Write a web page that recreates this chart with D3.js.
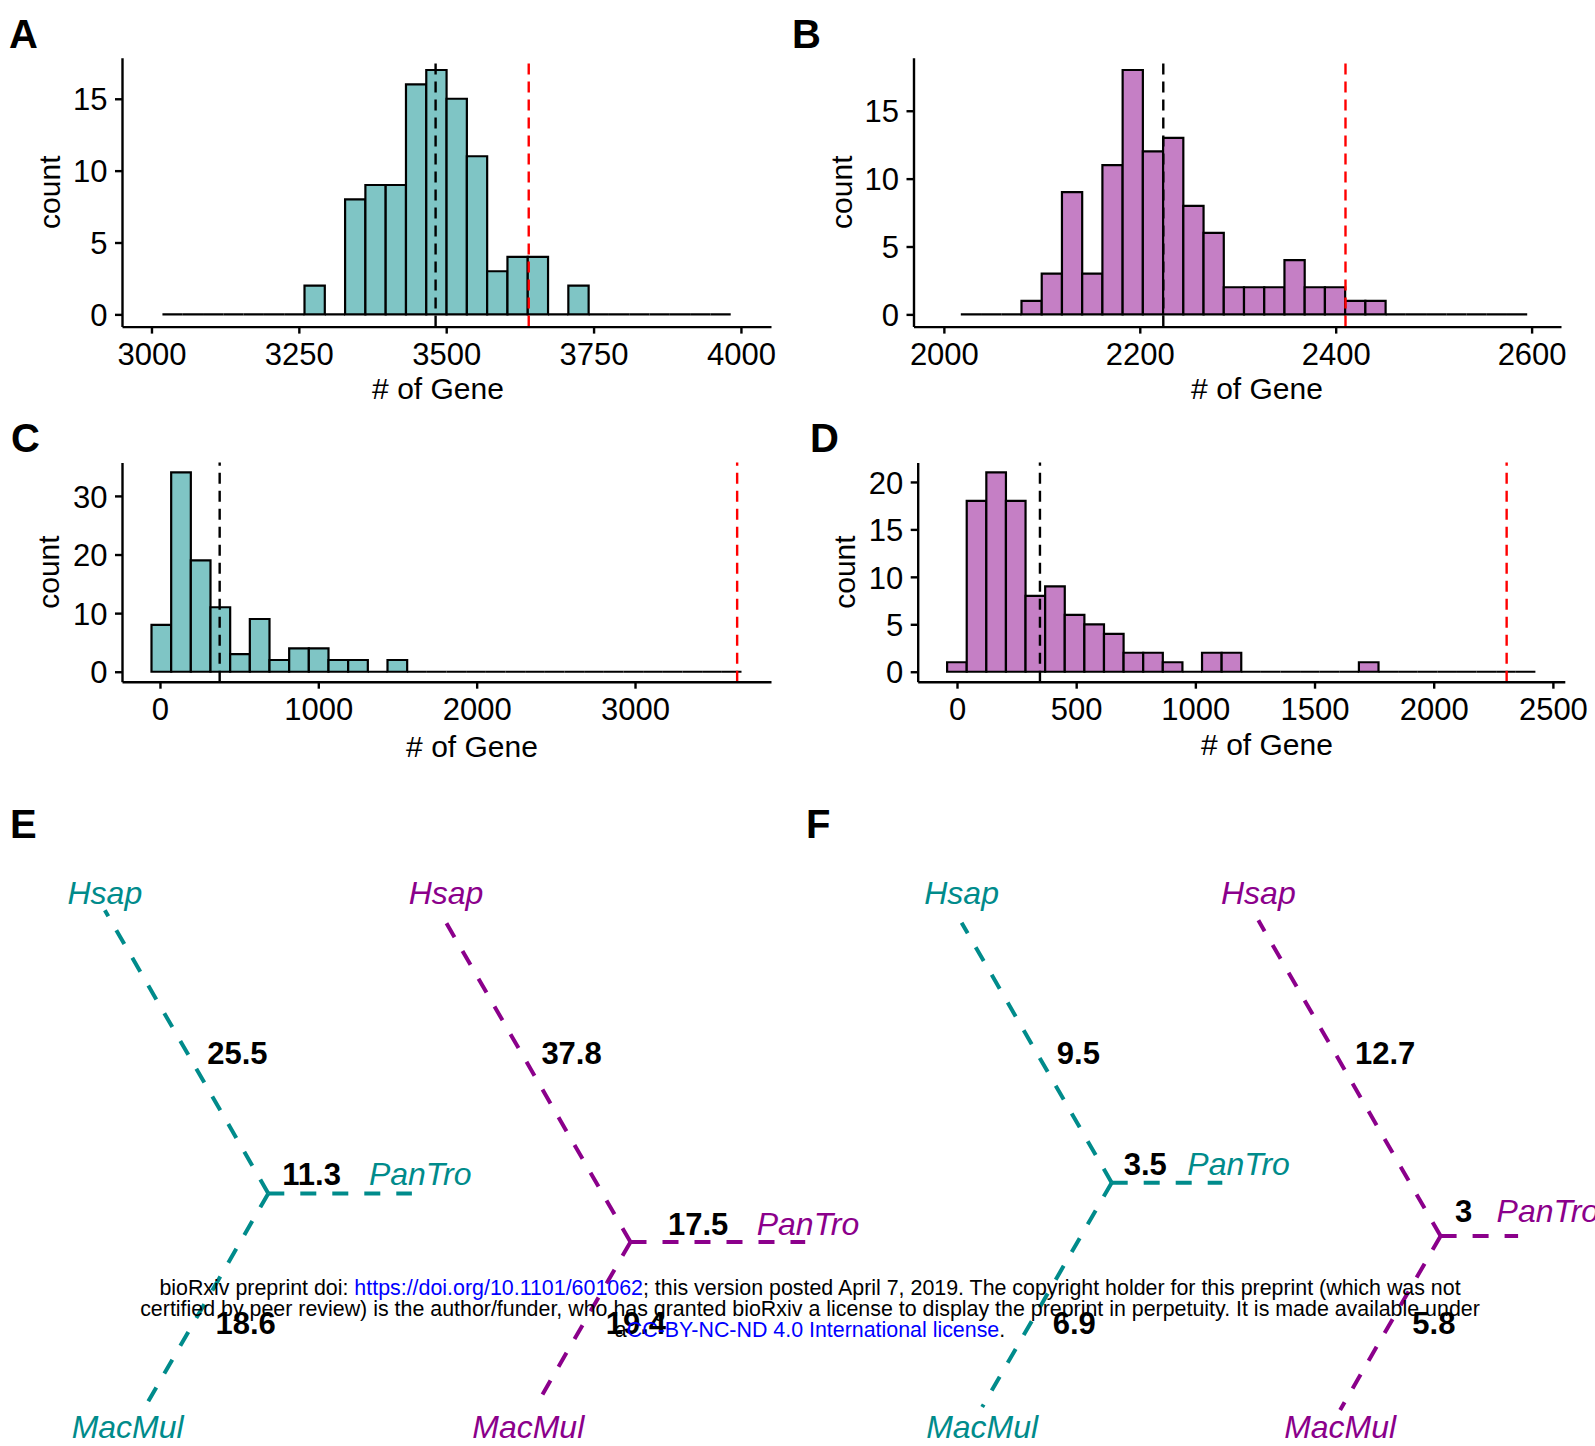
<!DOCTYPE html>
<html>
<head>
<meta charset="utf-8">
<script src="https://cdn.jsdelivr.net/npm/d3@7"></script>
<style>
body { margin: 0; background: #fff; }
svg { display: block; font-family: "Liberation Sans", Arial, sans-serif; }
</style>
</head>
<body>
<svg id="fig" width="1595" height="1446"></svg>
<script>
// ---- histogram data (counts per bin) ----
const countsA = [0,0,0,0,0,0,0,2,0,8,9,9,16,17,15,11,3,4,4,0,2,0,0,0,0,0,0,0];
const countsB = [0,0,0,1,3,9,3,11,18,12,13,8,6,2,2,2,4,2,2,1,1,0,0,0,0,0,0,0];
const countsC = [8,34,19,11,3,9,2,4,4,2,2,0,2,0,0,0,0,0,0,0,0,0,0,0,0,0,0,0,0,0];
const countsD = [1,18,21,18,8,9,6,5,4,2,2,1,0,2,2,0,0,0,0,0,0,1,0,0,0,0,0,0,0,0];

// first bin edge and bin width, in # of genes
const binsA = [3018.6, 34.43];
const binsB = [2017.3, 20.65];
const binsC = [-53.5, 124.2];
const binsD = [-41.5, 82.27];

// x axis limits
const xLimA = [2950, 4051];
const xLimB = [1969, 2630];
const xLimC = [-239.8, 3858.8];
const xLimD = [-164.9, 2550];

// dashed reference lines: [black (mean), red (observed)]
const refA = [3482, 3640];
const refB = [2224, 2410];
const refC = [377, 3645];
const refD = [348, 2306];

// tick labels
const xTicksA = [3000, 3250, 3500, 3750, 4000];
const xTicksB = [2000, 2200, 2400, 2600];
const xTicksC = [0, 1000, 2000, 3000];
const xTicksD = [0, 500, 1000, 1500, 2000, 2500];
const yTicksA = [0, 5, 10, 15];
const yTicksB = [0, 5, 10, 15];
const yTicksC = [0, 10, 20, 30];
const yTicksD = [0, 5, 10, 15, 20];

// ---- trees ----
const tipNames = ["Hsap", "PanTro", "MacMul"];
const tipAngles = [-120, 0, 120];
// edge labels
const edgeE1 = [25.5, 11.3, 18.6];
const edgeE2 = [37.8, 17.5, 19.4];
const edgeF1 = [9.5, 3.5, 6.9];
const edgeF2 = [12.7, 3, 5.8];
// branch lengths as drawn
const lenE1 = [25.5, 11.2, 19.6];
const lenE2 = [37.8, 17.9, 18.9];
const lenF1 = [9.5, 3.5, 8.2];
const lenF2 = [12.7, 2.7, 7.0];

const teal = "#008B8B", purple = "#8B008B";
const tealFill = "#7FC5C5", purpleFill = "#C57FC5";

const svg = d3.select("#fig");

function histPanel(p) {
  const x = d3.scaleLinear().domain(p.xLim).range([p.left, p.right]);
  const maxC = d3.max(p.counts);
  const y = d3.scaleLinear().domain([-0.05 * maxC, 1.05 * maxC]).range([p.bottom, p.top]);
  const g = svg.append("g");

  // bars (zero bins draw as flat lines)
  g.selectAll("path.bar").data(p.counts).join("path")
    .attr("class", "bar")
    .attr("d", (c, i) => {
      const x0 = x(p.bins[0] + i * p.bins[1]);
      const x1 = x(p.bins[0] + (i + 1) * p.bins[1]);
      return `M${x0},${y(0)}V${y(c)}H${x1}V${y(0)}Z`;
    })
    .attr("fill", p.fill)
    .attr("stroke", "#000")
    .attr("stroke-width", 2.2);

  // reference lines
  g.selectAll("line.ref").data(p.ref).join("line")
    .attr("class", "ref")
    .attr("x1", d => x(d)).attr("x2", d => x(d))
    .attr("y1", p.bottom).attr("y2", p.top)
    .attr("stroke", (d, i) => i === 0 ? "#000" : "#FF0000")
    .attr("stroke-width", 2.4)
    .attr("stroke-dasharray", "11,7");

  // axes
  const xAxis = g.append("g")
    .attr("transform", `translate(0,${p.bottom})`)
    .call(d3.axisBottom(x).tickValues(p.xTicks).tickFormat(d3.format("d"))
      .tickSize(7).tickSizeOuter(0));
  xAxis.selectAll("text").attr("y", 38.5).attr("dy", 0);

  const yAxis = g.append("g")
    .attr("transform", `translate(${p.left},0)`)
    .call(d3.axisLeft(y).tickValues(p.yTicks).tickFormat(d3.format("d"))
      .tickSize(7).tickSizeOuter(0));
  yAxis.selectAll("text").attr("x", -14.5).attr("dy", "0.36em");

  [xAxis, yAxis].forEach(a => {
    a.attr("font-family", null).attr("font-size", null);
    a.selectAll("path, line").attr("stroke", "#000").attr("stroke-width", 2.4);
    a.selectAll("text").attr("fill", "#000").style("font-size", "31px");
  });

  // titles
  g.append("text").attr("x", p.titleX).attr("y", p.titleY)
    .attr("text-anchor", "middle").style("font-size", "30px").text("# of Gene");
  g.append("text")
    .attr("transform", `translate(${p.countX},${(p.top + p.bottom) / 2}) rotate(-90)`)
    .attr("text-anchor", "middle").style("font-size", "30px").text("count");
}

histPanel({counts: countsA, bins: binsA, xLim: xLimA, ref: refA, xTicks: xTicksA, yTicks: yTicksA,
  left: 122, right: 771, top: 57.8, bottom: 326.6, fill: tealFill, titleX: 438, titleY: 399, countX: 60});
histPanel({counts: countsB, bins: binsB, xLim: xLimB, ref: refB, xTicks: xTicksB, yTicks: yTicksB,
  left: 913.5, right: 1561, top: 57.8, bottom: 326.6, fill: purpleFill, titleX: 1257, titleY: 399, countX: 852});
histPanel({counts: countsC, bins: binsC, xLim: xLimC, ref: refC, xTicks: xTicksC, yTicks: yTicksC,
  left: 122, right: 771, top: 462.5, bottom: 681.7, fill: tealFill, titleX: 472, titleY: 757, countX: 59});
histPanel({counts: countsD, bins: binsD, xLim: xLimD, ref: refD, xTicks: xTicksD, yTicks: yTicksD,
  left: 917.7, right: 1564.8, top: 462.5, bottom: 681.7, fill: purpleFill, titleX: 1267, titleY: 755, countX: 855});

// ---- unrooted trees ----
const treeLayout = [
  {edges: edgeE1, lens: lenE1, color: teal,   node: [268.3, 1193.4], k: 12.82, macDx: -15, panDx: -43,   panDy: 8.4,  numDx: 14},
  {edges: edgeE2, lens: lenE2, color: purple, node: [630.5, 1242],   k: 9.76,  macDx: -10, panDx: -48.5, panDy: 7.2,  numDx: 37.5},
  {edges: edgeF1, lens: lenF1, color: teal,   node: [1111.7, 1182.7], k: 31.6, macDx: 0,   panDx: -35,   panDy: 8,    numDx: 12},
  {edges: edgeF2, lens: lenF2, color: purple, node: [1440.6, 1236],  k: 28.7,  macDx: 0,   panDx: -21.5, panDy: 13.6, numDx: 14.4}
];

treeLayout.forEach(t => {
  const r = d3.scaleLinear().domain([0, 1]).range([0, t.k]);
  const [nx, ny] = t.node;
  const tips = t.lens.map((L, i) => {
    const a = tipAngles[i] * Math.PI / 180;
    return [nx + r(L) * Math.cos(a), ny + r(L) * Math.sin(a)];
  });
  const g = svg.append("g");

  g.selectAll("line").data(tips).join("line")
    .attr("x1", nx).attr("y1", ny)
    .attr("x2", d => d[0]).attr("y2", d => d[1])
    .attr("stroke", t.color).attr("stroke-width", 4)
    .attr("stroke-dasharray", "16,16");

  const tipStyle = s => s.attr("fill", t.color).style("font-size", "32px").style("font-style", "italic");
  const numStyle = s => s.attr("fill", "#000").style("font-size", "31px").style("font-weight", "bold");

  // tip names
  g.append("text").attr("x", tips[0][0]).attr("y", 903.5).attr("text-anchor", "middle")
    .call(tipStyle).text(tipNames[0]);
  g.append("text").attr("x", tips[1][0] + t.panDx).attr("y", ny - t.panDy)
    .call(tipStyle).text(tipNames[1]);
  g.append("text").attr("x", tips[2][0] + t.macDx).attr("y", 1437.7).attr("text-anchor", "middle")
    .call(tipStyle).text(tipNames[2]);

  // edge labels
  g.append("text").attr("x", nx - (ny - 1053) / Math.sqrt(3) + 20).attr("y", 1064)
    .call(numStyle).text(String(t.edges[0]));
  g.append("text").attr("x", nx + t.numDx).attr("y", ny - t.panDy)
    .call(numStyle).text(String(t.edges[1]));
  g.append("text").attr("x", nx - (1323 - ny) / Math.sqrt(3) + 22).attr("y", 1334)
    .call(numStyle).text(String(t.edges[2]));
});

// ---- panel letters ----
const letters = [["A", 9, 47.7], ["B", 792, 48], ["C", 11, 451.5], ["D", 810, 451.5], ["E", 10, 838], ["F", 806, 838]];
svg.selectAll("text.letter").data(letters).join("text")
  .attr("class", "letter")
  .attr("x", d => d[1]).attr("y", d => d[2])
  .style("font-size", "40px").style("font-weight", "bold")
  .text(d => d[0]);

// ---- bioRxiv footer ----
const foot = svg.append("g").style("font-size", "21.4px").attr("text-anchor", "middle");
const l1 = foot.append("text").attr("x", 810).attr("y", 1294.5);
l1.append("tspan").text("bioRxiv preprint doi: ");
l1.append("tspan").attr("fill", "#0000FF").text("https://doi.org/10.1101/601062");
l1.append("tspan").text("; this version posted April 7, 2019. The copyright holder for this preprint (which was not");
foot.append("text").attr("x", 810).attr("y", 1315.5)
  .text("certified by peer review) is the author/funder, who has granted bioRxiv a license to display the preprint in perpetuity. It is made available under");
const l3 = foot.append("text").attr("x", 810).attr("y", 1336.6);
l3.append("tspan").text("a");
l3.append("tspan").attr("fill", "#0000FF").text("CC-BY-NC-ND 4.0 International license");
l3.append("tspan").text(".");
</script>
</body>
</html>
